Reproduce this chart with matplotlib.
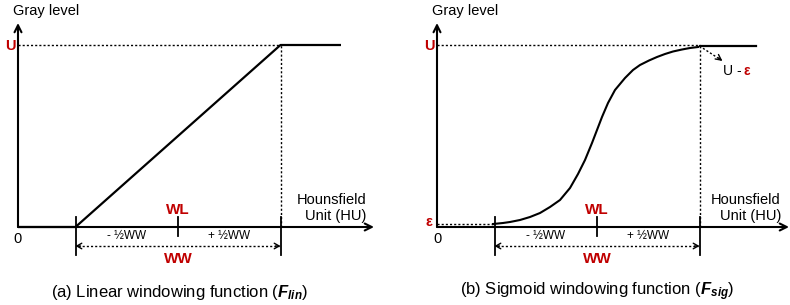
import numpy as np
import matplotlib
matplotlib.use("Agg")
import matplotlib.pyplot as plt

plt.rcParams['font.family'] = ['Liberation Sans', 'DejaVu Sans']
plt.rcParams['mathtext.fontset'] = 'custom'
plt.rcParams['mathtext.rm'] = 'Liberation Sans'
plt.rcParams['mathtext.it'] = 'Liberation Sans:italic'
plt.rcParams['mathtext.bf'] = 'Liberation Sans:bold:italic'

# schematic values (arbitrary units)
U = 182
EPS = 3
WL = 160
WW = 205
X_FLAT_END = [323, 319]
X_AXIS_END = [356, 352]
Y_AXIS_END = 204

# sigmoid curve (x, gray level)
sig_x = [56, 66, 73, 83, 93, 103, 113, 123, 133, 141, 148, 155, 160, 165, 171, 178,
         188, 196, 203, 212, 220, 228, 236, 245, 253, 261]
sig_y = [3, 4, 5, 7, 10, 14, 20, 27, 39, 53, 67, 84, 97, 110, 124, 137,
         149, 157, 162, 166.5, 170, 173, 175.5, 177.5, 179, 180]

captions = ["(a) Linear windowing function (" + r"$\mathbf{F_{lin}}\mathit{)}$",
            "(b) Sigmoid windowing function (" + r"$\mathbf{F_{sig}}\mathit{)}$"]

RED = '#C00000'
dot = (0, (1.5, 1.5))

fig = plt.figure(figsize=(7.9, 3.05), dpi=100)

def draw_panel(ax, k):
    lo, hi = WL - WW / 2, WL + WW / 2
    # axes with arrows
    ax.annotate('', xy=(0, Y_AXIS_END), xytext=(0, 0),
                arrowprops=dict(arrowstyle='->,head_length=0.5,head_width=0.25', lw=1.5,
                                color='black', shrinkA=0, shrinkB=0))
    ax.annotate('', xy=(X_AXIS_END[k], 0), xytext=(0, 0),
                arrowprops=dict(arrowstyle='->,head_length=0.5,head_width=0.25', lw=1.5,
                                color='black', shrinkA=0, shrinkB=0))
    # guides
    ax.plot([0, hi], [U, U], color='black', lw=1, ls=dot)
    ax.plot([hi, hi], [0, U], color='black', lw=1, ls=dot)
    if k == 0:
        ax.plot([0, lo, hi, X_FLAT_END[k]], [0, 0, U, U], color='black', lw=1.6,
                solid_capstyle='butt')
    else:
        ax.plot([0, lo], [EPS, EPS], color='black', lw=1, ls=dot)
        ax.plot(sig_x, sig_y, color='black', lw=1.5)
        ax.plot([hi, X_FLAT_END[k]], [U - 1, U - 1], color='black', lw=1.6)
        ax.plot([hi, hi + 20], [U - 1, U - 14], color='black', lw=1, ls=dot)
        ax.annotate('', xy=(hi + 23, U - 16), xytext=(hi + 19, U - 13),
                    arrowprops=dict(arrowstyle='->,head_length=0.4,head_width=0.2', lw=1,
                                    color='black', shrinkA=0, shrinkB=0))
        ax.text(hi + 23.5, U - 26, 'U -', fontsize=10, ha='left', va='center')
        ax.text(hi + 43.5, U - 26, 'ε', fontsize=10, color=RED, fontweight='bold',
                ha='left', va='center')
        ax.text(-8, EPS + 2, 'ε', fontsize=10.5, color=RED, fontweight='bold',
                ha='center', va='center')
    # ticks
    ax.plot([lo, lo], [10, -28], color='black', lw=1.3)
    ax.plot([hi, hi], [10, -28], color='black', lw=1.3)
    ax.plot([WL, WL], [10, -9], color='black', lw=1.3)
    # WW dotted double arrow
    ax.plot([lo + 2, hi - 2], [-19, -19], color='black', lw=1, ls=dot)
    for a, b in [(lo + 5, lo), (hi - 5, hi)]:
        ax.annotate('', xy=(b, -19), xytext=(a, -19),
                    arrowprops=dict(arrowstyle='->,head_length=0.35,head_width=0.2', lw=1,
                                    color='black', shrinkA=0, shrinkB=0))
    # labels
    ax.text(WL, 17, 'WL', fontsize=11, color=RED, fontweight='bold', ha='center', va='center')
    ax.text(WL, -32, 'WW', fontsize=11, color=RED, fontweight='bold', ha='center', va='center')
    ax.text(WL - WW / 4, -9, '- ½WW', fontsize=8.5, ha='center', va='center')
    ax.text(WL + WW / 4, -9, '+ ½WW', fontsize=8.5, ha='center', va='center')
    ax.text(-8, U - 1, 'U', fontsize=10.5, color=RED, fontweight='bold', ha='center', va='center')
    ax.text(0, -12, '0', fontsize=10.5, ha='center', va='center')
    ax.text(-5, 216, 'Gray level', fontsize=10.5, ha='left', va='center')
    ax.text(X_AXIS_END[k] - 8, 19, 'Hounsfield\nUnit (HU)', fontsize=10.5, ha='right',
            va='center', multialignment='right', linespacing=1.2)
    ax.text(162 if k == 0 else 160, -65, captions[k], fontsize=12, ha='center', va='center')

for k, (x0, ox) in enumerate([(0, 18), (395, 437)]):
    ax = fig.add_axes([x0 / 790, 0, 395 / 790, 1])
    ax.set_xlim(-(ox - x0), 395 - (ox - x0))
    ax.set_ylim(-78, 227)
    ax.axis('off')
    draw_panel(ax, k)

fig.savefig('out.png', dpi=100)
